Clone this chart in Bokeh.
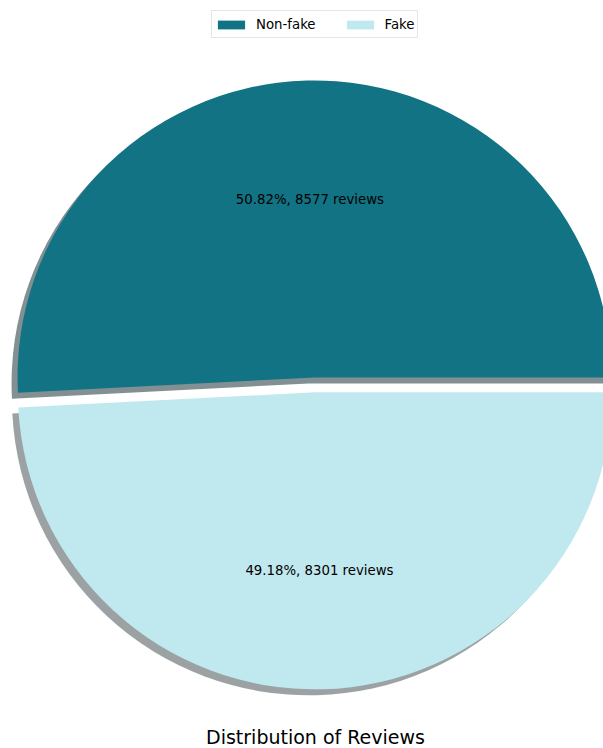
import numpy as np
from bokeh.plotting import figure
from bokeh.models import ColumnDataSource, Range1d, Legend, LegendItem
from bokeh.core.properties import value
from bokeh.embed import file_html
from bokeh.resources import INLINE

# ---- data ----
categories = ["Non-fake", "Fake"]
counts = [8577, 8301]
colors = ["#127384", "#c0e9ef"]
explode = [0.0, 0.05]
title_text = "Distribution of Reviews"

# ---- layout ----
W, H = 603, 748
cx, cy, R = 314.0, H - 377.0, 297.0
shadow_off = 0.02 * R

total = float(sum(counts))
fracs = np.array(counts) / total
ends = np.cumsum(fracs) * 2 * np.pi
starts = ends - fracs * 2 * np.pi
mids = (starts + ends) / 2
ex = np.array(explode)
xs = cx + ex * R * np.cos(mids)
ys = cy + ex * R * np.sin(mids)
labels = [f"{f*100:.2f}%, {c} reviews" for f, c in zip(fracs, counts)]
lx = xs + 0.6 * R * np.cos(mids)
ly = ys + 0.6 * R * np.sin(mids)


def shade(h):
    h = h.lstrip("#")
    r, g, b = (int(h[i:i + 2], 16) for i in (0, 2, 4))
    return "#%02x%02x%02x" % (int(r * 0.3), int(g * 0.3), int(b * 0.3))


src = ColumnDataSource(dict(
    x=xs, y=ys, start=starts, end=ends, color=colors,
    sx=xs - shadow_off, sy=ys - shadow_off, scolor=[shade(c) for c in colors],
    lx=lx, ly=ly, label=labels, cat=categories,
))

p = figure(width=W, height=H, x_range=Range1d(0, W), y_range=Range1d(0, H),
           output_backend="svg", toolbar_location=None, min_border=0,
           x_axis_type=None, y_axis_type=None)
p.grid.visible = False
p.outline_line_color = None
p.background_fill_color = "white"
p.border_fill_color = "white"

# shadows
p.wedge(x="sx", y="sy", radius=R, start_angle="start", end_angle="end",
        fill_color="scolor", fill_alpha=0.5, line_color=None, source=src)
# wedges
wr = p.wedge(x="x", y="y", radius=R, start_angle="start", end_angle="end",
             fill_color="color", line_color=None, source=src)

p.text(x="lx", y="ly", text="label", source=src, text_align="center",
       text_baseline="middle", text_font=value("DejaVu Sans"),
       text_font_size="13.3px", text_color="black")

p.text(x=[315], y=[H - 736], text=[title_text], text_align="center",
       text_baseline="middle", text_font=value("DejaVu Sans"),
       text_font_size="19px", text_color="black")

items = [LegendItem(label=categories[i], renderers=[wr], index=i) for i in range(len(categories))]
legend = Legend(items=items, orientation="horizontal", location=(211, H - 38),
                glyph_width=34, glyph_height=11, label_standoff=8, spacing=27,
                padding=2, margin=0, label_height=22,
                label_text_font="DejaVu Sans", label_text_font_size="13.3px",
                label_text_color="black",
                border_line_color="#cccccc", border_line_width=1,
                background_fill_color="white", background_fill_alpha=0.8)
p.add_layout(legend)

open("out.html", "w").write(file_html(p, INLINE))
